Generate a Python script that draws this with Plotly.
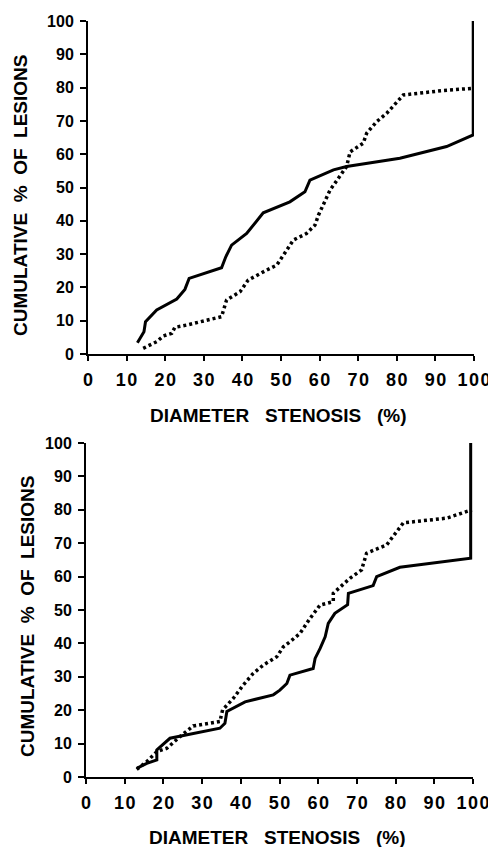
import plotly.graph_objects as go

# ---------------- data ----------------
top_solid_x = [12.8, 14.5, 14.9, 17.8, 23.0, 25.1, 26.2, 34.6, 35.7, 37.2, 41.1, 45.4, 52.3, 56.2, 57.5, 63.6, 67.0, 80.8, 92.9, 99.8, 99.8]
top_solid_y = [3.4, 6.7, 9.7, 13.2, 16.5, 19.4, 22.7, 25.9, 29.2, 32.7, 36.2, 42.4, 45.7, 48.7, 52.2, 55.3, 56.3, 58.8, 62.3, 65.8, 100.0]

top_dot_x = [14.3, 17.8, 19.5, 21.7, 22.5, 25.6, 34.6, 35.9, 39.4, 41.5, 46.3, 48.9, 51.5, 53.2, 56.6, 58.8, 59.7, 61.0, 62.7, 67.0, 67.9, 71.3, 72.2, 74.8, 77.4, 81.7, 91.8, 99.8]
top_dot_y = [1.7, 3.7, 5.4, 6.2, 8.0, 8.7, 11.2, 16.2, 18.7, 22.2, 25.2, 26.7, 31.2, 34.2, 36.2, 38.7, 41.7, 45.2, 49.2, 56.3, 60.7, 63.3, 66.3, 69.8, 72.3, 77.8, 79.1, 79.8]

bot_solid_x = [13.1, 15.7, 18.3, 18.3, 21.7, 26.0, 34.6, 35.9, 36.4, 41.1, 48.4, 50.1, 51.9, 52.7, 58.7, 59.2, 60.5, 61.8, 62.6, 64.3, 67.6, 67.8, 74.2, 75.1, 81.1, 99.4, 99.4]
bot_solid_y = [2.6, 4.1, 5.1, 8.1, 11.6, 12.6, 14.6, 16.1, 19.6, 22.5, 24.6, 26.0, 28.0, 30.5, 32.5, 35.5, 38.5, 42.0, 46.0, 49.0, 51.6, 55.0, 57.3, 60.0, 62.8, 65.5, 100.0]

bot_dot_x = [13.1, 15.7, 18.3, 20.9, 24.3, 27.7, 34.6, 35.3, 38.1, 40.6, 43.2, 45.8, 49.3, 51.0, 52.7, 55.3, 57.9, 60.5, 63.9, 63.9, 68.2, 71.2, 72.5, 77.7, 82.0, 93.2, 99.7]
bot_dot_y = [2.3, 4.6, 7.6, 8.6, 12.1, 15.3, 16.6, 20.1, 23.6, 27.5, 31.0, 33.5, 36.0, 39.0, 40.5, 43.0, 47.5, 51.5, 52.5, 55.0, 59.5, 62.0, 67.0, 69.5, 76.1, 77.5, 80.0]

tick_vals = [0, 10, 20, 30, 40, 50, 60, 70, 80, 90, 100]
tick_text = ["0", "10", "20", "30", "40", "50", "60", "70", "80", "90", "100"]

x_title = "DIAMETER\u00a0\u00a0\u00a0STENOSIS\u00a0\u00a0\u00a0(%)"
y_title = "CUMULATIVE\u00a0\u00a0%\u00a0\u00a0OF\u00a0\u00a0LESIONS"

# ---------------- figure ----------------
W, H = 496, 847
OFF = 8  # page body margin
FONT = "Liberation Sans, Arial, Helvetica, sans-serif"

fig = go.Figure()

def add_pair(sx, sy, dx, dy, xa, ya):
    fig.add_trace(go.Scatter(x=sx, y=sy, mode="lines", xaxis=xa, yaxis=ya,
                             line=dict(color="black", width=3), showlegend=False))
    fig.add_trace(go.Scatter(x=dx, y=dy, mode="lines", xaxis=xa, yaxis=ya,
                             line=dict(color="black", width=3.5, dash="3px,3px"), showlegend=False))

add_pair(top_solid_x, top_solid_y, top_dot_x, top_dot_y, "x", "y")
add_pair(bot_solid_x, bot_solid_y, bot_dot_x, bot_dot_y, "x2", "y2")

def px_x(p):
    return (p - OFF) / W

def px_y(p):
    return 1 - (p - OFF) / H

x_ticktext = ["<b>" + "\u200a".join(t) + "</b>" for t in tick_text]
y_ticktext = ["<b>" + t + "</b>" for t in tick_text]

xcommon = dict(range=[0, 100], tickvals=tick_vals, ticktext=x_ticktext, showline=True,
               linecolor="black", linewidth=2, ticks="outside", ticklen=5, tickwidth=2,
               tickcolor="black", showgrid=False, zeroline=False, fixedrange=True,
               tickfont=dict(family=FONT, size=18, color="black"),
               ticklabelstandoff=3, automargin=False)
ycommon = dict(range=[0, 100], tickvals=tick_vals, ticktext=y_ticktext, showline=True,
               linecolor="black", linewidth=2, ticks="outside", ticklen=6, tickwidth=2,
               tickcolor="black", showgrid=False, zeroline=False, fixedrange=True,
               tickfont=dict(family=FONT, size=16, color="black"),
               ticklabelstandoff=3, automargin=False)

fig.update_layout(
    width=W, height=H,
    margin=dict(l=0, r=0, t=0, b=0, pad=0, autoexpand=False),
    paper_bgcolor="white", plot_bgcolor="white",
    xaxis=dict(domain=[px_x(88), px_x(474)], anchor="y", **xcommon),
    yaxis=dict(domain=[px_y(354), px_y(21)], anchor="x", **ycommon),
    xaxis2=dict(domain=[px_x(86), px_x(473)], anchor="y2", **xcommon),
    yaxis2=dict(domain=[px_y(777), px_y(443)], anchor="x2", **ycommon),
)

title_font = dict(family=FONT, size=19, color="black")
fig.add_annotation(text="<b>" + x_title + "</b>", xref="paper", yref="paper", x=px_x(278), y=px_y(415),
                   showarrow=False, font=title_font, xanchor="center", yanchor="middle")
fig.add_annotation(text="<b>" + x_title + "</b>", xref="paper", yref="paper", x=px_x(277), y=px_y(837),
                   showarrow=False, font=title_font, xanchor="center", yanchor="middle")
fig.add_annotation(text="<b>" + y_title + "</b>", xref="paper", yref="paper", x=px_x(21), y=px_y(195),
                   showarrow=False, font=title_font, textangle=-90,
                   xanchor="center", yanchor="middle")
fig.add_annotation(text="<b>" + y_title + "</b>", xref="paper", yref="paper", x=px_x(27), y=px_y(616),
                   showarrow=False, font=title_font, textangle=-90,
                   xanchor="center", yanchor="middle")

fig.write_html("out.html")
